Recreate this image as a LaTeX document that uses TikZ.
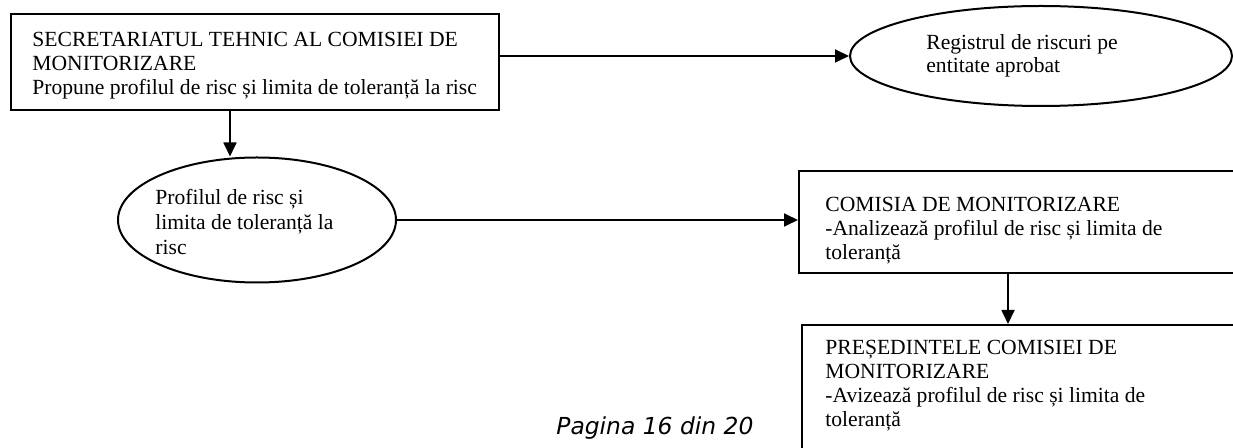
\documentclass[tikz,border=0pt]{standalone}
\usepackage{fontspec}
\setmainfont{Liberation Serif}
\newfontfamily\pagefont{DejaVu Sans}
\usetikzlibrary{arrows.meta,shapes.geometric}
\tikzset{
  shapeline/.style={draw=black, line width=1pt},
  boxnode/.style={shapeline, rectangle, inner sep=0pt},
  ovalnode/.style={shapeline, ellipse, inner sep=0pt},
  txt/.style={anchor=base west, inner sep=0pt, align=left, font=\fontsize{10.8}{12}\selectfont},
  arr/.style={line width=0.9pt, -{Triangle[length=7pt,width=6.5pt]}},
}
\begin{document}
\begin{tikzpicture}[x=0.5pt,y=-0.5pt]
\useasboundingbox (0,0) rectangle (1233,448);
\clip (0,0) rectangle (1233,448);
% shapes
\node[boxnode, minimum width=244pt, minimum height=48pt] (b1) at (255,62) {};
\node[ovalnode, minimum width=191pt, minimum height=50pt] (e1) at (1041,56) {};
\node[ovalnode, minimum width=139pt, minimum height=62.5pt] (e2) at (257,220) {};
\node[boxnode, minimum width=250.5pt, minimum height=51pt] (cm) at (1049.5,222) {};
\node[boxnode, minimum width=249pt, minimum height=72.5pt] (pr) at (1051,397.5) {};
\coordinate (x1) at (230,0);
\coordinate (x2) at (1008,0);
% texts (anchored at the baseline of their last line)
\node[txt] (t1) at (32,95) {SECRETARIATUL TEHNIC AL COMISIEI DE\\MONITORIZARE\\Propune profilul de risc și limita de toleranță la risc};
\node[txt, font=\fontsize{10.8}{11.5}\selectfont] (t2) at (926,73) {Registrul de riscuri pe\\entitate aprobat};
\node[txt, font=\fontsize{10.8}{12.5}\selectfont] (t3) at (155,255) {Profilul de risc și\\limita de toleranță la\\risc};
\node[txt] (t4) at (825,260) {COMISIA DE MONITORIZARE\\-Analizează profilul de risc și limita de\\toleranță};
\node[txt] (t5) at (825,427) {PREȘEDINTELE COMISIEI DE\\MONITORIZARE\\-Avizează profilul de risc și limita de\\toleranță};
\node[anchor=base west, inner sep=0pt, font=\pagefont\itshape\fontsize{11.7}{14}\selectfont] (pg) at (556,435) {Pagina 16 din 20};
% connectors
\draw[arr] (b1.east |- e1.west) -- (e1.west);
\draw[arr] (b1.south -| x1) -- (e2.north -| x1);
\draw[arr] (e2.east) -- (cm.west |- e2.east);
\draw[arr] (cm.south -| x2) -- (pr.north -| x2);
\end{tikzpicture}
\end{document}
